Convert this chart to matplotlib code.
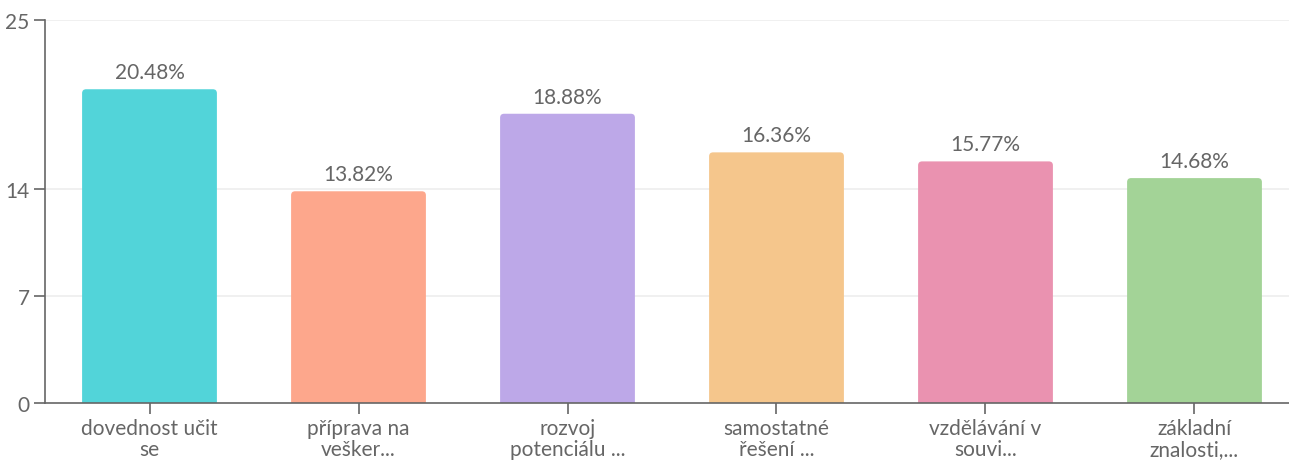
import matplotlib
matplotlib.use("Agg")
import matplotlib.pyplot as plt
from matplotlib.path import Path
from matplotlib.patches import PathPatch

categories = ["dovednost učit\nse", "příprava na\nvešker...", "rozvoj\npotenciálu ...",
              "samostatné\nřešení ...", "vzdělávání v\nsouvi...", "základní\nznalosti,..."]
values = [20.48, 13.82, 18.88, 16.36, 15.77, 14.68]
colors = ["#52D4D9", "#FDA78C", "#BDA8E8", "#F5C68C", "#EA92B0", "#A3D397"]
yticks = [0, 7, 14, 25]

plt.rcParams['font.family'] = ['Lato', 'DejaVu Sans']

W, H = 1289, 464
fig = plt.figure(figsize=(W / 100, H / 100), dpi=100)
ax = fig.add_axes([45 / W, 60 / H, 1 - 45 / W, (404 - 21) / H])

x = list(range(len(categories)))
bars = ax.bar(x, values, width=0.645, color=colors, zorder=2)
ax.set_xlim(-0.5, 5.5 - 10 / 209)
ax.set_ylim(0, 25)

# rounded top corners
fig.canvas.draw()
r = 4  # px
for b in bars:
    x0, y0 = b.get_x(), b.get_y()
    x1, y1 = x0 + b.get_width(), y0 + b.get_height()
    (px0, py0), (px1, py1) = ax.transData.transform([(x0, y0), (x1, y1)])
    verts = [(px0, py0), (px0, py1 - r), (px0, py1), (px0 + r, py1),
             (px1 - r, py1), (px1, py1), (px1, py1 - r), (px1, py0), (px0, py0)]
    codes = [Path.MOVETO, Path.LINETO, Path.CURVE3, Path.CURVE3,
             Path.LINETO, Path.CURVE3, Path.CURVE3, Path.LINETO, Path.CLOSEPOLY]
    patch = PathPatch(Path(verts, codes), facecolor=b.get_facecolor(), edgecolor='none',
                      transform=None, zorder=2)
    ax.add_artist(patch)
    b.set_visible(False)

for xi, v in zip(x, values):
    ax.annotate(f"{v:.2f}%", (xi, v), xytext=(0, 5), textcoords='offset points',
                ha='center', va='bottom', fontsize=15, color='#666666')

ax.set_yticks(yticks)
ax.set_xticks(x)
ax.set_xticklabels(categories, fontsize=15, color='#666666', linespacing=1.05)
ax.tick_params(axis='y', labelsize=15, labelcolor='#666666', color='#666666', length=8, width=1.2, pad=3)
ax.tick_params(axis='x', color='#666666', length=8, width=1.2, pad=3)
for yt in yticks[1:]:
    ax.axhline(yt, color='#eeeeee', lw=1.2, zorder=1)
for s in ['top', 'right']:
    ax.spines[s].set_visible(False)
for s in ['left', 'bottom']:
    ax.spines[s].set_color('#666666')
    ax.spines[s].set_linewidth(1.2)

fig.savefig("out.png", dpi=100)
